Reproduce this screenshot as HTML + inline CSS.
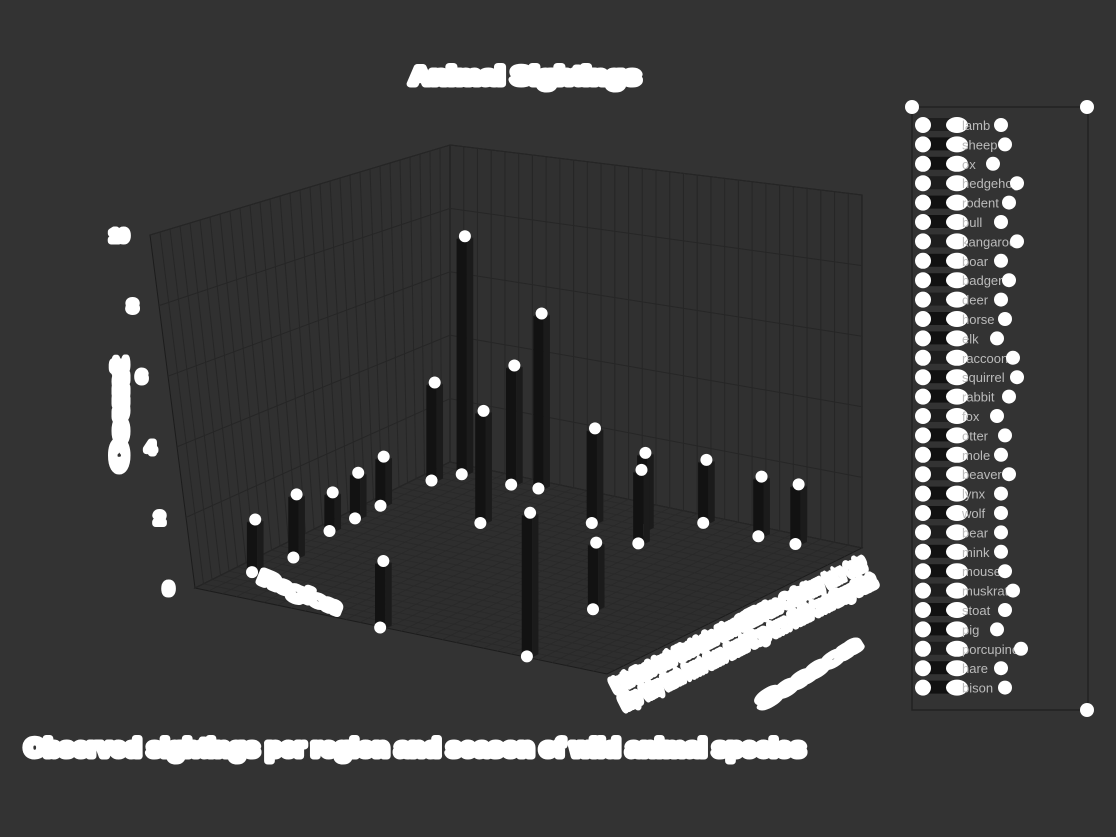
<!DOCTYPE html>
<html><head><meta charset="utf-8"><style>
html,body{margin:0;padding:0;background:#333;}
svg{display:block;font-family:"Liberation Sans",sans-serif;}
</style></head><body>
<svg id="chart" width="1116" height="837" viewBox="0 0 1116 837">
<rect width="1116" height="837" fill="#333"/>
<g id="walls"></g><g id="bars"></g><g id="labels"></g>
<text x="525" y="84" text-anchor="middle" font-size="24" font-weight="bold" fill="#fff" stroke="#fff" stroke-width="7" stroke-linejoin="round" textLength="230" lengthAdjust="spacingAndGlyphs">Animal Sightings</text>
<text x="415" y="756" text-anchor="middle" font-size="24" font-weight="bold" fill="#fff" stroke="#fff" stroke-width="7" stroke-linejoin="round" textLength="780" lengthAdjust="spacingAndGlyphs">Observed sightings per region and season of wild animal species</text>
<text x="0" y="0" transform="translate(127,415) rotate(-90)" text-anchor="middle" font-size="22" font-weight="bold" fill="#fff" stroke="#fff" stroke-width="7" stroke-linejoin="round" textLength="110" lengthAdjust="spacingAndGlyphs">Count</text>
<text x="0" y="0" transform="translate(298,598) rotate(22)" text-anchor="middle" font-size="18" font-weight="bold" fill="#fff" stroke="#fff" stroke-width="7" stroke-linejoin="round" textLength="85" lengthAdjust="spacingAndGlyphs">Region</text>
<text x="0" y="0" transform="translate(812,678) rotate(-32)" text-anchor="middle" font-size="18" font-weight="bold" fill="#fff" stroke="#fff" stroke-width="7" stroke-linejoin="round" textLength="115" lengthAdjust="spacingAndGlyphs">Season</text>
<g id="legend">
<rect x="912" y="107" width="176" height="603" fill="none" stroke="#222" stroke-width="1.5"/>
<circle cx="912" cy="107" r="7" fill="#fff"/><circle cx="1087" cy="107" r="7" fill="#fff"/><circle cx="1087" cy="710" r="7" fill="#fff"/>
</g>
</svg>
<script>
const zTicks=[0,2,4,6,8,10];
const barU=[0.98,0.97,0.63,0.82,0.69,0.28,0.03,0.02,0.03,0.1,0.21,0.13,0.02,0.03,0.03,0.15,0.3,0.4,0.5];
const barV=[0.44,0.79,0.74,0.03,0.05,0.25,0.05,0.23,0.17,0.02,0.59,0.55,0.63,0.77,0.86,0.44,0.02,0.02,0.02];
const barVal=[1.8,4.0,1.8,1.4,1.7,3.1,6.7,4.9,3.3,2.7,2.0,2.1,1.7,1.6,1.6,2.6,1.3,1.2,1.0];
const xTickLabels=["North","East","South","West","Lake","River","Hill","Pine","Oak","Stony","Meadow","Cedar"];
const xTickLabels2=["Ridge","Valley","Marsh","Forest","Shore","Bend","Top","Grove","Field","Creek","Bay","Flat"];
const legendNames=["lamb","sheep","ox","hedgehog","rodent","bull","kangaroo","boar","badger","deer","horse","elk","raccoon","squirrel","rabbit","fox","otter","mole","beaver","lynx","wolf","bear","mink","mouse","muskrat","stoat","pig","porcupine","hare","bison"];
const NS="http://www.w3.org/2000/svg";
const B=[450,462],L=[195,588],R=[862,548];
const TB=[450,145],TL=[150,235],TR=[862,195];
const zUnit=35;
function proj(u,v,z){return [B[0]+u*(L[0]-B[0])+v*(R[0]-B[0]), B[1]+u*(L[1]-B[1])+v*(R[1]-B[1])-z*zUnit];}
function mk(tag,attrs,parent){const e=document.createElementNS(NS,tag);for(const k in attrs)e.setAttribute(k,attrs[k]);parent.appendChild(e);return e;}
const W=document.getElementById('walls');
function lerp(a,b,t){return [a[0]+(b[0]-a[0])*t,a[1]+(b[1]-a[1])*t];}
let lw=mk('polygon',{points:[B,L,TL,TB].map(p=>p.join(',')).join(' '),fill:'#303030',stroke:'#1c1c1c'},W);

let rw=mk('polygon',{points:[B,R,TR,TB].map(p=>p.join(',')).join(' '),fill:'#303030',stroke:'#1c1c1c'},W);

let fl=mk('polygon',{points:[B,L,proj(1,1,0),R].map(p=>p.join(',')).join(' '),fill:'#2e2e2e',stroke:'#1c1c1c'},W);

const N=30;
for(let i=1;i<N;i++){const t=i/N;
 let a=lerp(B,L,t),b=lerp(TB,TL,t);mk('line',{x1:a[0],y1:a[1],x2:b[0],y2:b[1],stroke:'#262626','stroke-width':1},W);
 a=lerp(B,R,t);b=lerp(TB,TR,t);mk('line',{x1:a[0],y1:a[1],x2:b[0],y2:b[1],stroke:'#262626','stroke-width':1},W);
 a=proj(t,0,0);b=proj(t,1,0);mk('line',{x1:a[0],y1:a[1],x2:b[0],y2:b[1],stroke:'#292929','stroke-width':0.8},W);
 a=proj(0,t,0);b=proj(1,t,0);mk('line',{x1:a[0],y1:a[1],x2:b[0],y2:b[1],stroke:'#292929','stroke-width':0.8},W);
}
const lab=document.getElementById('labels');
zTicks.forEach((z)=>{const t=z/10;const a=lerp(L,TL,t),b=lerp(B,TB,t),c=lerp(R,TR,t);
 mk('polyline',{points:[a,b,c].map(p=>p.join(',')).join(' '),fill:'none',stroke:'#262626'},W);
 const tx=mk('text',{x:a[0]-22,y:a[1]+6,'text-anchor':'end','font-size':16,'font-weight':'bold',fill:'#fff',stroke:'#fff','stroke-width':7,'stroke-linejoin':'round'},lab);
 tx.textContent=String(z);
 
});
// tick labels along the front-right edge, two rows
const nx=0.441,ny=0.897;
[[xTickLabels,14],[xTickLabels2,34]].forEach(([arr,off])=>{
 arr.forEach((s,i)=>{const p=proj(1-(i+0.5)/arr.length,1,0);
  const x=p[0]+nx*off,y=p[1]+ny*off+5;
  const t=mk('text',{x:x,y:y,'text-anchor':'middle','font-size':14,'font-weight':'bold',fill:'#fff',stroke:'#fff','stroke-width':11,'stroke-linejoin':'round',transform:`rotate(-27 ${x} ${y})`,textLength:20,lengthAdjust:'spacingAndGlyphs'},lab);
  t.textContent=s;
  
 });
});
const G=document.getElementById('bars');
const idx=barU.map((_,i)=>i).sort((a,b)=>(barU[a]+barV[a])-(barU[b]+barV[b]));
const w=0.025;
idx.forEach(i=>{const u=barU[i],v=barV[i],h=barVal[i];
 const g=mk('g',{},G);
 
 const p=(a,b,z)=>proj(a,b,z).join(',');
 mk('polygon',{points:[p(u+w,v,0),p(u+w,v+w,0),p(u+w,v+w,h),p(u+w,v,h)].join(' '),fill:'#121212'},g);
 mk('polygon',{points:[p(u,v+w,0),p(u+w,v+w,0),p(u+w,v+w,h),p(u,v+w,h)].join(' '),fill:'#1b1b1b'},g);
 mk('polygon',{points:[p(u,v,h),p(u+w,v,h),p(u+w,v+w,h),p(u,v+w,h)].join(' '),fill:'#222'},g);
 const top=proj(u+w/2,v+w/2,h),bot=proj(u+w,v+w/2,0);
 mk('circle',{cx:top[0],cy:top[1]-2,r:6,fill:'#fff'},g);
 mk('circle',{cx:bot[0],cy:bot[1],r:6,fill:'#fff'},g);
});
const LG=document.getElementById('legend');
legendNames.forEach((n,i)=>{const y=125+i*19.4;
 const g=mk('g',{},LG);
 
 mk('rect',{x:918,y:y-7,width:34,height:13,fill:i%3?'#111':'#1e1e1e'},g);
 mk('ellipse',{cx:923,cy:y,rx:8,ry:8,fill:'#fff'},g);
 mk('ellipse',{cx:957,cy:y,rx:11,ry:8,fill:'#fff'},g);
 const t=mk('text',{x:962,y:y+5,'font-size':13,fill:'#bbb'},g);t.textContent=n;
 mk('circle',{cx:985+n.length*4,cy:y,r:7,fill:'#fff'},g);
});
</script>
</body></html>
